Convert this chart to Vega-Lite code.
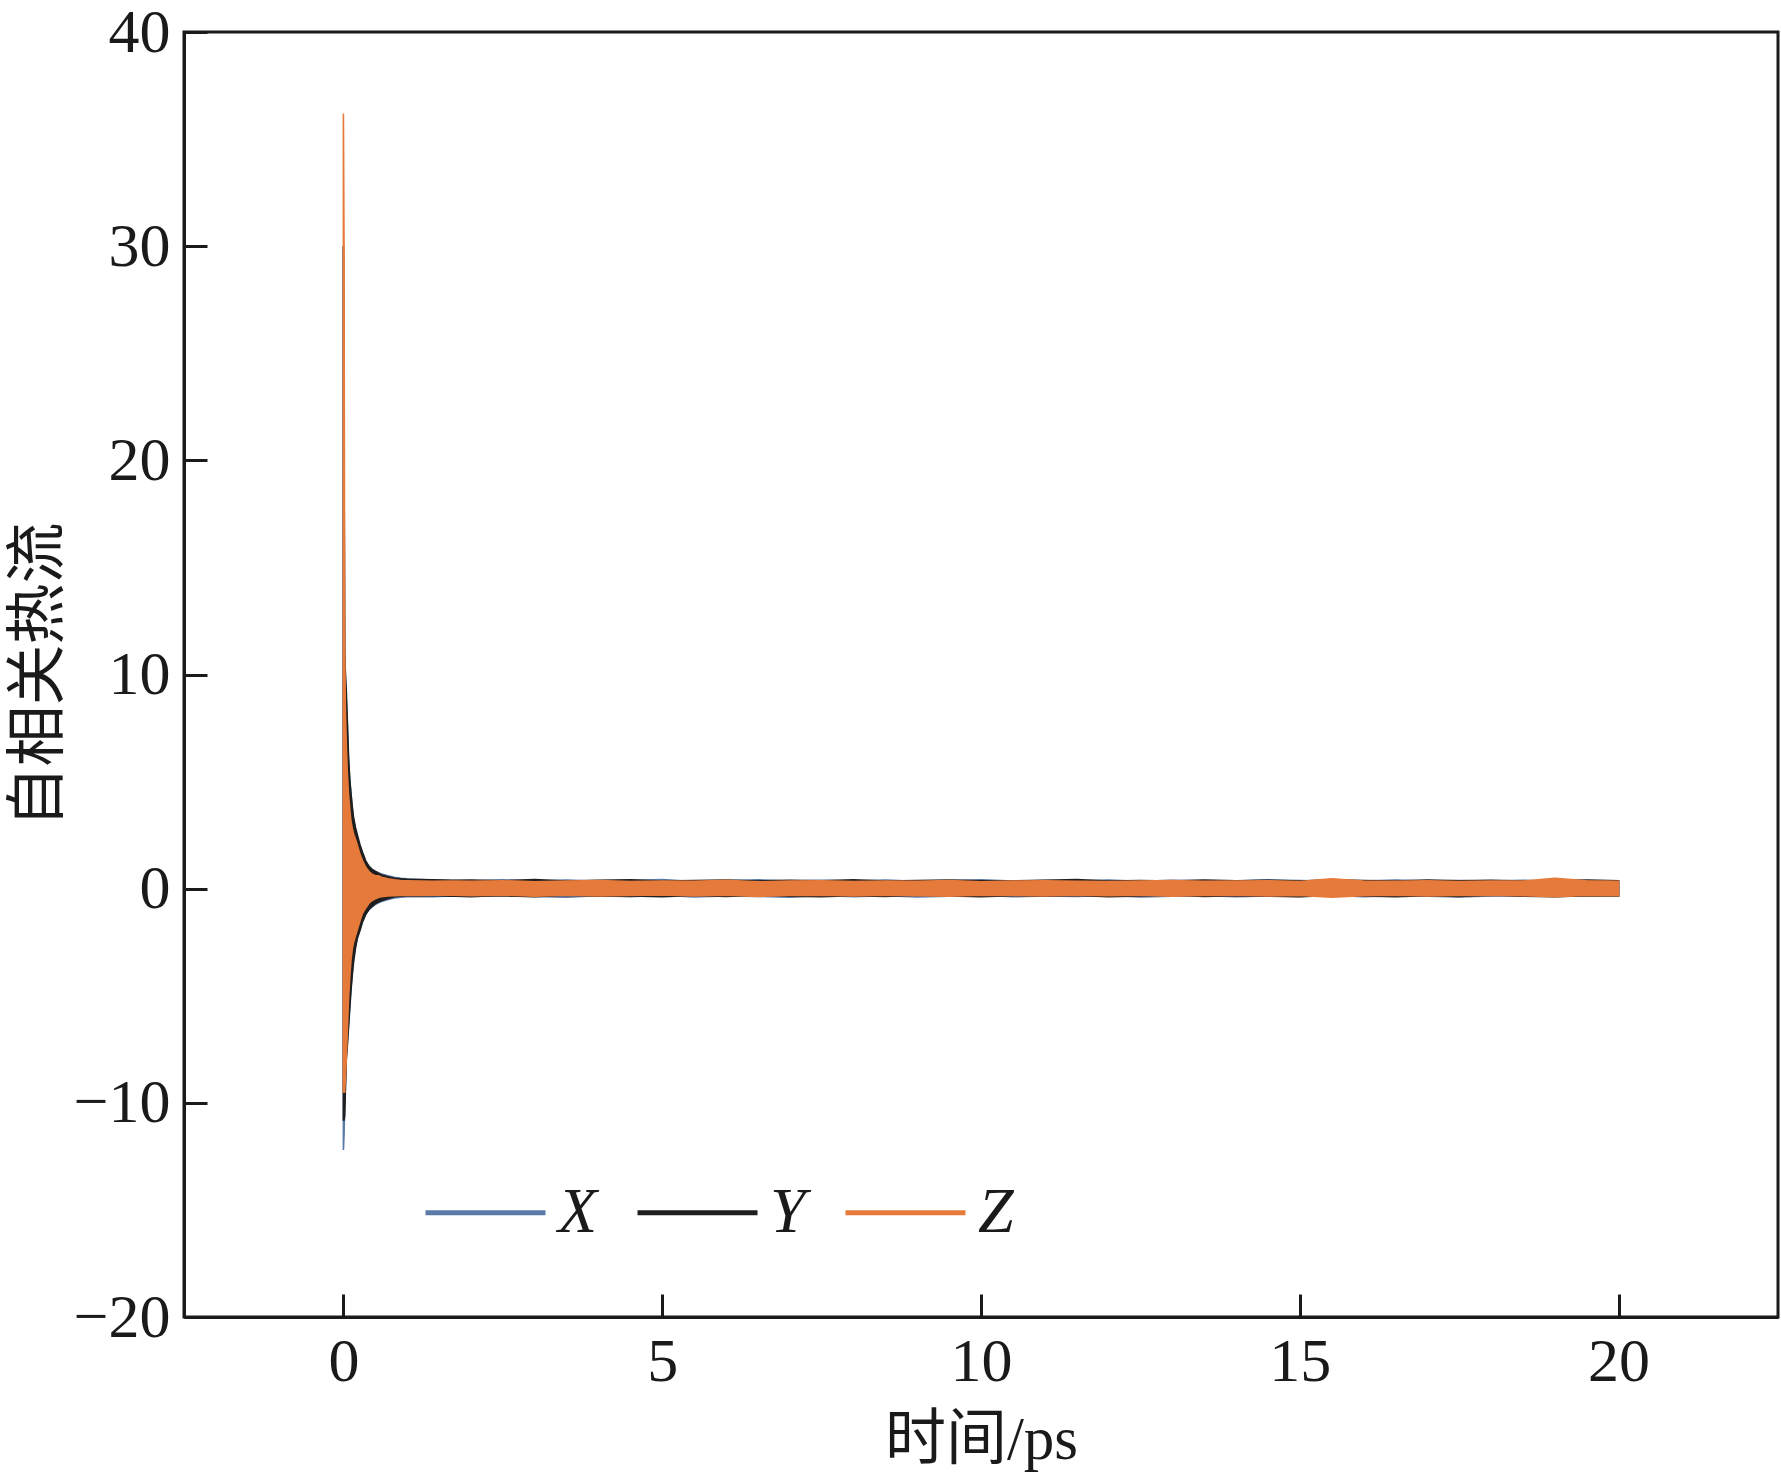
{
  "$schema": "https://vega.github.io/schema/vega-lite/v6.json",
  "autosize": "none",
  "width": 1594,
  "height": 1285,
  "padding": {"left": 184, "top": 32, "right": 3, "bottom": 159},
  "background": "white",
  "config": {
    "view": {"stroke": "#1a1a1a", "strokeWidth": 3},
    "axis": {
      "domainColor": "#1a1a1a", "domainWidth": 3,
      "tickColor": "#1a1a1a", "tickWidth": 3, "tickSize": -23,
      "labelFont": "Liberation Serif", "labelFontSize": 62, "labelColor": "#1a1a1a",
      "labelPadding": 37,
      "titleFont": "Liberation Serif, Noto Sans CJK SC", "titleFontSize": 61, "titleFontWeight": "normal", "titleColor": "#1a1a1a",
      "grid": false
    },
    "legend": {
      "orient": "none", "legendX": 239, "legendY": 1118, "direction": "horizontal",
      "symbolType": "stroke", "symbolSize": 14400, "symbolStrokeWidth": 5,
      "labelFont": "Liberation Serif", "labelFontStyle": "italic", "labelFontSize": 64, "labelColor": "#1a1a1a",
      "labelOffset": 10, "columnPadding": 29, "padding": 0, "title": null
    }
  },
  "data": {
    "values": [
      {"t":0,"s":"X","hi":30,"lo":-12.2},{"t":0.01,"s":"X","hi":20,"lo":-11.5},{"t":0.02,"s":"X","hi":10.5,"lo":-10.2},{"t":0.03,"s":"X","hi":9.8,"lo":-9.3},{"t":0.045,"s":"X","hi":8.8,"lo":-7.8},{"t":0.06,"s":"X","hi":7.7,"lo":-7.2},{"t":0.08,"s":"X","hi":6.0,"lo":-6.3},{"t":0.1,"s":"X","hi":5.0,"lo":-5.4},{"t":0.12,"s":"X","hi":4.4,"lo":-4.6},{"t":0.14,"s":"X","hi":3.7,"lo":-3.9},{"t":0.16,"s":"X","hi":3.2,"lo":-3.3},{"t":0.19,"s":"X","hi":2.75,"lo":-2.7},{"t":0.22,"s":"X","hi":2.4,"lo":-2.25},{"t":0.26,"s":"X","hi":1.95,"lo":-1.9},{"t":0.3,"s":"X","hi":1.62,"lo":-1.5},{"t":0.35,"s":"X","hi":1.25,"lo":-1.18},{"t":0.4,"s":"X","hi":1.02,"lo":-0.98},{"t":0.45,"s":"X","hi":0.9,"lo":-0.85},{"t":0.5,"s":"X","hi":0.82,"lo":-0.74},{"t":0.55,"s":"X","hi":0.75,"lo":-0.66},{"t":0.6,"s":"X","hi":0.68,"lo":-0.6},{"t":0.7,"s":"X","hi":0.6,"lo":-0.5},{"t":0.8,"s":"X","hi":0.53,"lo":-0.43},{"t":0.9,"s":"X","hi":0.49,"lo":-0.4},{"t":1.0,"s":"X","hi":0.46,"lo":-0.38},{"t":1.2,"s":"X","hi":0.43,"lo":-0.36},{"t":1.4,"s":"X","hi":0.40,"lo":-0.37},{"t":1.7,"s":"X","hi":0.38,"lo":-0.34},
      {"t":2.0,"s":"X","hi":0.36,"lo":-0.38},{"t":2.5,"s":"X","hi":0.41,"lo":-0.32},{"t":3.0,"s":"X","hi":0.35,"lo":-0.36},{"t":3.5,"s":"X","hi":0.40,"lo":-0.40},{"t":4.0,"s":"X","hi":0.34,"lo":-0.33},{"t":4.5,"s":"X","hi":0.38,"lo":-0.37},{"t":5.0,"s":"X","hi":0.42,"lo":-0.31},{"t":5.5,"s":"X","hi":0.33,"lo":-0.39},{"t":6.0,"s":"X","hi":0.37,"lo":-0.34},{"t":6.5,"s":"X","hi":0.41,"lo":-0.36},{"t":7.0,"s":"X","hi":0.35,"lo":-0.40},{"t":7.5,"s":"X","hi":0.39,"lo":-0.32},{"t":8.0,"s":"X","hi":0.36,"lo":-0.37},{"t":8.5,"s":"X","hi":0.40,"lo":-0.33},{"t":9.0,"s":"X","hi":0.34,"lo":-0.39},{"t":9.5,"s":"X","hi":0.37,"lo":-0.35},{"t":10.0,"s":"X","hi":0.41,"lo":-0.31},{"t":10.5,"s":"X","hi":0.35,"lo":-0.38},{"t":11.0,"s":"X","hi":0.38,"lo":-0.34},{"t":11.5,"s":"X","hi":0.36,"lo":-0.36},{"t":12.0,"s":"X","hi":0.40,"lo":-0.32},{"t":12.5,"s":"X","hi":0.34,"lo":-0.39},{"t":13.0,"s":"X","hi":0.39,"lo":-0.35},{"t":13.5,"s":"X","hi":0.37,"lo":-0.33},{"t":14.0,"s":"X","hi":0.35,"lo":-0.38},{"t":14.5,"s":"X","hi":0.41,"lo":-0.34},{"t":15.0,"s":"X","hi":0.38,"lo":-0.36},{"t":15.5,"s":"X","hi":0.34,"lo":-0.31},{"t":16.0,"s":"X","hi":0.36,"lo":-0.37},{"t":16.5,"s":"X","hi":0.40,"lo":-0.33},{"t":17.0,"s":"X","hi":0.35,"lo":-0.35},{"t":17.5,"s":"X","hi":0.38,"lo":-0.39},{"t":18.0,"s":"X","hi":0.36,"lo":-0.34},{"t":18.5,"s":"X","hi":0.39,"lo":-0.32},{"t":19.0,"s":"X","hi":0.34,"lo":-0.36},{"t":19.5,"s":"X","hi":0.37,"lo":-0.34},{"t":20.0,"s":"X","hi":0.35,"lo":-0.33},

      {"t":0,"s":"Y","hi":30,"lo":-10.8},{"t":0.01,"s":"Y","hi":20,"lo":-10.8},{"t":0.02,"s":"Y","hi":11.2,"lo":-10.6},{"t":0.03,"s":"Y","hi":10.2,"lo":-9.5},{"t":0.045,"s":"Y","hi":9.2,"lo":-8.0},{"t":0.06,"s":"Y","hi":8.0,"lo":-7.4},{"t":0.08,"s":"Y","hi":6.2,"lo":-6.5},{"t":0.1,"s":"Y","hi":5.1,"lo":-5.6},{"t":0.12,"s":"Y","hi":4.4,"lo":-4.7},{"t":0.14,"s":"Y","hi":3.8,"lo":-4.0},{"t":0.16,"s":"Y","hi":3.3,"lo":-3.4},{"t":0.19,"s":"Y","hi":2.85,"lo":-2.75},{"t":0.22,"s":"Y","hi":2.5,"lo":-2.3},{"t":0.26,"s":"Y","hi":2.05,"lo":-1.95},{"t":0.3,"s":"Y","hi":1.7,"lo":-1.55},{"t":0.35,"s":"Y","hi":1.3,"lo":-1.2},{"t":0.4,"s":"Y","hi":1.05,"lo":-0.97},{"t":0.45,"s":"Y","hi":0.9,"lo":-0.83},{"t":0.5,"s":"Y","hi":0.8,"lo":-0.7},{"t":0.55,"s":"Y","hi":0.72,"lo":-0.62},{"t":0.6,"s":"Y","hi":0.64,"lo":-0.55},{"t":0.7,"s":"Y","hi":0.55,"lo":-0.46},{"t":0.8,"s":"Y","hi":0.49,"lo":-0.38},{"t":0.9,"s":"Y","hi":0.46,"lo":-0.35},{"t":1.0,"s":"Y","hi":0.44,"lo":-0.33},{"t":1.2,"s":"Y","hi":0.42,"lo":-0.34},{"t":1.4,"s":"Y","hi":0.41,"lo":-0.32},{"t":1.7,"s":"Y","hi":0.39,"lo":-0.35},
      {"t":2.0,"s":"Y","hi":0.40,"lo":-0.36},{"t":2.5,"s":"Y","hi":0.37,"lo":-0.33},{"t":3.0,"s":"Y","hi":0.42,"lo":-0.38},{"t":3.5,"s":"Y","hi":0.36,"lo":-0.31},{"t":4.0,"s":"Y","hi":0.39,"lo":-0.35},{"t":4.5,"s":"Y","hi":0.41,"lo":-0.34},{"t":5.0,"s":"Y","hi":0.35,"lo":-0.37},{"t":5.5,"s":"Y","hi":0.38,"lo":-0.32},{"t":6.0,"s":"Y","hi":0.40,"lo":-0.36},{"t":6.5,"s":"Y","hi":0.36,"lo":-0.30},{"t":7.0,"s":"Y","hi":0.39,"lo":-0.35},{"t":7.5,"s":"Y","hi":0.37,"lo":-0.38},{"t":8.0,"s":"Y","hi":0.41,"lo":-0.33},{"t":8.5,"s":"Y","hi":0.35,"lo":-0.36},{"t":9.0,"s":"Y","hi":0.38,"lo":-0.31},{"t":9.5,"s":"Y","hi":0.40,"lo":-0.34},{"t":10.0,"s":"Y","hi":0.37,"lo":-0.37},{"t":10.5,"s":"Y","hi":0.36,"lo":-0.33},{"t":11.0,"s":"Y","hi":0.39,"lo":-0.35},{"t":11.5,"s":"Y","hi":0.42,"lo":-0.32},{"t":12.0,"s":"Y","hi":0.36,"lo":-0.38},{"t":12.5,"s":"Y","hi":0.38,"lo":-0.34},{"t":13.0,"s":"Y","hi":0.35,"lo":-0.31},{"t":13.5,"s":"Y","hi":0.40,"lo":-0.36},{"t":14.0,"s":"Y","hi":0.37,"lo":-0.33},{"t":14.5,"s":"Y","hi":0.39,"lo":-0.35},{"t":15.0,"s":"Y","hi":0.36,"lo":-0.37},{"t":15.5,"s":"Y","hi":0.41,"lo":-0.32},{"t":16.0,"s":"Y","hi":0.38,"lo":-0.34},{"t":16.5,"s":"Y","hi":0.35,"lo":-0.38},{"t":17.0,"s":"Y","hi":0.40,"lo":-0.33},{"t":17.5,"s":"Y","hi":0.37,"lo":-0.36},{"t":18.0,"s":"Y","hi":0.39,"lo":-0.31},{"t":18.5,"s":"Y","hi":0.36,"lo":-0.35},{"t":19.0,"s":"Y","hi":0.38,"lo":-0.37},{"t":19.5,"s":"Y","hi":0.40,"lo":-0.33},{"t":20.0,"s":"Y","hi":0.37,"lo":-0.34},

      {"t":0,"s":"Z","hi":36.2,"lo":-9.5},{"t":0.01,"s":"Z","hi":30,"lo":-9.5},{"t":0.02,"s":"Z","hi":12,"lo":-9.5},{"t":0.03,"s":"Z","hi":8.5,"lo":-9.0},{"t":0.045,"s":"Z","hi":6.8,"lo":-8.0},{"t":0.06,"s":"Z","hi":5.5,"lo":-6.8},{"t":0.08,"s":"Z","hi":4.4,"lo":-5.2},{"t":0.1,"s":"Z","hi":3.7,"lo":-4.1},{"t":0.12,"s":"Z","hi":3.1,"lo":-3.3},{"t":0.14,"s":"Z","hi":2.8,"lo":-2.8},{"t":0.16,"s":"Z","hi":2.55,"lo":-2.5},{"t":0.19,"s":"Z","hi":2.3,"lo":-2.2},{"t":0.22,"s":"Z","hi":2.0,"lo":-1.9},{"t":0.26,"s":"Z","hi":1.6,"lo":-1.5},{"t":0.3,"s":"Z","hi":1.3,"lo":-1.15},{"t":0.35,"s":"Z","hi":1.0,"lo":-0.9},{"t":0.4,"s":"Z","hi":0.8,"lo":-0.68},{"t":0.45,"s":"Z","hi":0.68,"lo":-0.55},{"t":0.5,"s":"Z","hi":0.6,"lo":-0.47},{"t":0.55,"s":"Z","hi":0.6,"lo":-0.41},{"t":0.6,"s":"Z","hi":0.53,"lo":-0.37},{"t":0.7,"s":"Z","hi":0.46,"lo":-0.34},{"t":0.8,"s":"Z","hi":0.41,"lo":-0.33},{"t":0.9,"s":"Z","hi":0.38,"lo":-0.32},{"t":1.0,"s":"Z","hi":0.37,"lo":-0.31},{"t":1.2,"s":"Z","hi":0.35,"lo":-0.32},{"t":1.4,"s":"Z","hi":0.34,"lo":-0.30},{"t":1.7,"s":"Z","hi":0.35,"lo":-0.31},
      {"t":2.0,"s":"Z","hi":0.34,"lo":-0.33},{"t":2.5,"s":"Z","hi":0.37,"lo":-0.30},{"t":3.0,"s":"Z","hi":0.32,"lo":-0.35},{"t":3.5,"s":"Z","hi":0.35,"lo":-0.31},{"t":4.0,"s":"Z","hi":0.38,"lo":-0.34},{"t":4.5,"s":"Z","hi":0.33,"lo":-0.32},{"t":5.0,"s":"Z","hi":0.36,"lo":-0.29},{"t":5.5,"s":"Z","hi":0.34,"lo":-0.34},{"t":6.0,"s":"Z","hi":0.39,"lo":-0.31},{"t":6.5,"s":"Z","hi":0.32,"lo":-0.36},{"t":7.0,"s":"Z","hi":0.35,"lo":-0.32},{"t":7.5,"s":"Z","hi":0.37,"lo":-0.30},{"t":8.0,"s":"Z","hi":0.33,"lo":-0.34},{"t":8.5,"s":"Z","hi":0.36,"lo":-0.31},{"t":9.0,"s":"Z","hi":0.34,"lo":-0.33},{"t":9.5,"s":"Z","hi":0.38,"lo":-0.35},{"t":10.0,"s":"Z","hi":0.32,"lo":-0.30},{"t":10.5,"s":"Z","hi":0.35,"lo":-0.32},{"t":11.0,"s":"Z","hi":0.37,"lo":-0.34},{"t":11.5,"s":"Z","hi":0.34,"lo":-0.31},{"t":12.0,"s":"Z","hi":0.33,"lo":-0.33},{"t":12.5,"s":"Z","hi":0.36,"lo":-0.30},{"t":13.0,"s":"Z","hi":0.38,"lo":-0.35},{"t":13.5,"s":"Z","hi":0.34,"lo":-0.32},{"t":14.0,"s":"Z","hi":0.35,"lo":-0.31},{"t":14.5,"s":"Z","hi":0.37,"lo":-0.34},{"t":15.0,"s":"Z","hi":0.33,"lo":-0.32},{"t":15.5,"s":"Z","hi":0.46,"lo":-0.40},{"t":16.0,"s":"Z","hi":0.35,"lo":-0.33},{"t":16.5,"s":"Z","hi":0.34,"lo":-0.31},{"t":17.0,"s":"Z","hi":0.37,"lo":-0.34},{"t":17.5,"s":"Z","hi":0.33,"lo":-0.32},{"t":18.0,"s":"Z","hi":0.36,"lo":-0.30},{"t":18.5,"s":"Z","hi":0.35,"lo":-0.33},{"t":19.0,"s":"Z","hi":0.48,"lo":-0.38},{"t":19.5,"s":"Z","hi":0.37,"lo":-0.32},{"t":20.0,"s":"Z","hi":0.34,"lo":-0.33}
    ]
  },
  "mark": {"type": "area", "opacity": 1, "fillOpacity": 1, "strokeWidth": 1.6, "interpolate": "linear", "clip": true},
  "encoding": {
    "x": {"field": "t", "type": "quantitative",
          "scale": {"domain": [-2.5, 22.5], "nice": false, "zero": false},
          "axis": {"values": [0, 5, 10, 15, 20], "title": "时间/ps", "titlePadding": 18}},
    "y": {"field": "hi", "type": "quantitative", "stack": null,
          "scale": {"domain": [-20, 40], "nice": false, "zero": false},
          "axis": {"values": [-20, -10, 0, 10, 20, 30, 40], "title": "自相关热流", "titlePadding": 3}},
    "y2": {"field": "lo"},
    "color": {"field": "s", "type": "nominal",
              "scale": {"domain": ["X", "Y", "Z"], "range": ["#5a7aa8", "#1f1f1f", "#e67a3b"]}},
    "stroke": {"field": "s", "type": "nominal",
              "scale": {"domain": ["X", "Y", "Z"], "range": ["#5a7aa8", "#1f1f1f", "#e67a3b"]}}
  }
}
